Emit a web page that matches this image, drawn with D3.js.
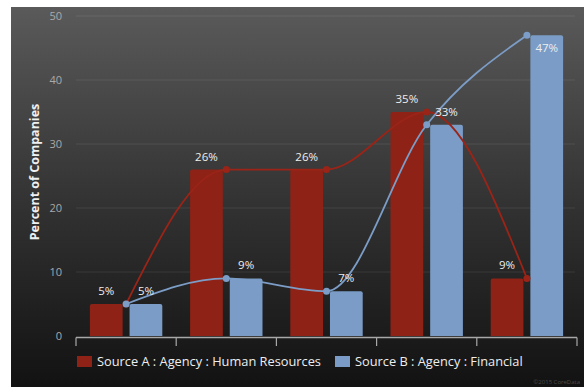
<!DOCTYPE html>
<html>
<head>
<meta charset="utf-8">
<script src="https://cdn.jsdelivr.net/npm/d3@7"></script>
<style>
  html, body { margin: 0; padding: 0; background: #fff; }
  svg { display: block; font-family: "Open Sans", "DejaVu Sans", sans-serif; }
</style>
</head>
<body>
<svg id="chart" width="584" height="387"></svg>
<script>
// Chart data
const categories = ["C1", "C2", "C3", "C4", "C5"];
const seriesNames = ["Source A : Agency : Human Resources", "Source B : Agency : Financial"];
const sourceA = [5, 26, 26, 35, 9];
const sourceB = [5, 9, 7, 33, 47];
const yTicks = [0, 10, 20, 30, 40, 50];
const colors = ["#8e2216", "#7a9cc6"];
const lineColors = ["#9a2417", "#7c9dc7"];

const svg = d3.select("#chart");
const W = 584, H = 387;

// Background panel with vertical gradient
const defs = svg.append("defs");
const grad = defs.append("linearGradient").attr("id", "bg").attr("x1", 0).attr("y1", 0).attr("x2", 0).attr("y2", 1);
grad.append("stop").attr("offset", "0%").attr("stop-color", "#5a5a5a");
grad.append("stop").attr("offset", "55%").attr("stop-color", "#303030");
grad.append("stop").attr("offset", "100%").attr("stop-color", "#121212");
svg.append("rect").attr("x", 11).attr("y", 7).attr("width", W - 11).attr("height", H - 7).attr("fill", "url(#bg)");

const plot = { left: 76, right: 577, top: 16, bottom: 336 };

const x0 = d3.scaleBand().domain(categories).range([plot.left, plot.right]).padding(0);
const x1 = d3.scaleBand().domain([0, 1]).range([0, x0.bandwidth()]).paddingInner(0.175).paddingOuter(0.35);
const y = d3.scaleLinear().domain([0, 50]).range([plot.bottom, plot.top]);

// Horizontal grid lines
svg.append("g").selectAll("line").data(yTicks.filter(t => t > 0)).join("line")
  .attr("x1", plot.left).attr("x2", plot.right - 2)
  .attr("y1", d => y(d)).attr("y2", d => y(d))
  .attr("stroke", "rgba(255,255,255,0.09)").attr("stroke-width", 1);

// Y axis tick labels
const yAxis = d3.axisLeft(y).tickValues(yTicks).tickSize(0).tickPadding(14);
const yg = svg.append("g").attr("transform", `translate(${plot.left},0)`).call(yAxis);
yg.select(".domain").remove();
yg.selectAll("text").attr("fill", "#a9a9a9").style("font-size", "11px")
  .style("font-family", "\"Open Sans\", sans-serif");

// Y axis title
svg.append("text")
  .attr("transform", "translate(39,172) rotate(-90)")
  .attr("text-anchor", "middle")
  .attr("fill", "#f0f0f0").style("font-size", "12.5px").style("font-weight", "bold")
  .text("Percent of Companies");

// Bars
const series = [sourceA, sourceB];
const barData = [];
categories.forEach((c, i) => series.forEach((s, k) => barData.push({ c, k, v: s[i] })));

function topRoundedRect(xp, yp, w, h, r) {
  r = Math.min(r, h, w / 2);
  return `M${xp},${yp + h}V${yp + r}Q${xp},${yp} ${xp + r},${yp}H${xp + w - r}Q${xp + w},${yp} ${xp + w},${yp + r}V${yp + h}Z`;
}

svg.append("g").selectAll("path").data(barData).join("path")
  .attr("d", d => topRoundedRect(x0(d.c) + x1(d.k), y(d.v), x1.bandwidth(), y(0) - y(d.v), 2))
  .attr("fill", d => colors[d.k]);

// X axis line with boundary ticks
const xg = svg.append("g");
xg.append("line").attr("x1", plot.left).attr("x2", plot.right).attr("y1", plot.bottom + 1.5).attr("y2", plot.bottom + 1.5)
  .attr("stroke", "#a8a8a8").attr("stroke-width", 1.3);
const tickXs = categories.map(c => x0(c)).concat([x0(categories[categories.length - 1]) + x0.bandwidth()]);
xg.selectAll("line.tick").data(tickXs).join("line").attr("class", "tick")
  .attr("x1", d => d).attr("x2", d => d).attr("y1", plot.bottom + 1.5).attr("y2", plot.bottom + 10)
  .attr("stroke", "#a8a8a8").attr("stroke-width", 1.2);

// Spline lines through band centres
const cx = c => x0(c) + x0.bandwidth() / 2;
const line = d3.line().x(d => cx(d.c)).y(d => y(d.v)).curve(d3.curveMonotoneX);
series.forEach((s, k) => {
  const pts = categories.map((c, i) => ({ c, v: s[i] }));
  svg.append("path").datum(pts).attr("d", line)
    .attr("fill", "none").attr("stroke", lineColors[k]).attr("stroke-width", 1.8);
  svg.append("g").selectAll("circle").data(pts).join("circle")
    .attr("cx", d => cx(d.c)).attr("cy", d => y(d.v)).attr("r", 3.5)
    .attr("fill", lineColors[k]);
});

// Value labels above bars (inside when there is no room above)
svg.append("g").selectAll("text").data(barData).join("text")
  .attr("x", d => x0(d.c) + x1(d.k) + x1.bandwidth() / 2)
  .attr("y", d => (y(d.v) - 22 < plot.top ? y(d.v) + 13 : y(d.v) - 13))
  .attr("dy", "0.35em")
  .attr("text-anchor", "middle")
  .attr("fill", "#eeeeee").style("font-size", "11.5px")
  .text(d => d.v + "%");

// Legend
const legend = svg.append("g");
const legendX = [77, 335];
seriesNames.forEach((name, k) => {
  legend.append("rect").attr("x", legendX[k]).attr("y", 356).attr("width", 15).attr("height", 11).attr("fill", colors[k]);
  legend.append("text").attr("x", legendX[k] + 20).attr("y", 361.5).attr("dy", "0.35em")
    .attr("fill", "#eeeeee").style("font-size", "12.8px").text(name);
});

// Footer credit
svg.append("text").attr("x", 580).attr("y", 384).attr("text-anchor", "end")
  .attr("fill", "#4a4a4a").style("font-size", "6px").text("©2015 CoreData");
</script>
</body>
</html>
